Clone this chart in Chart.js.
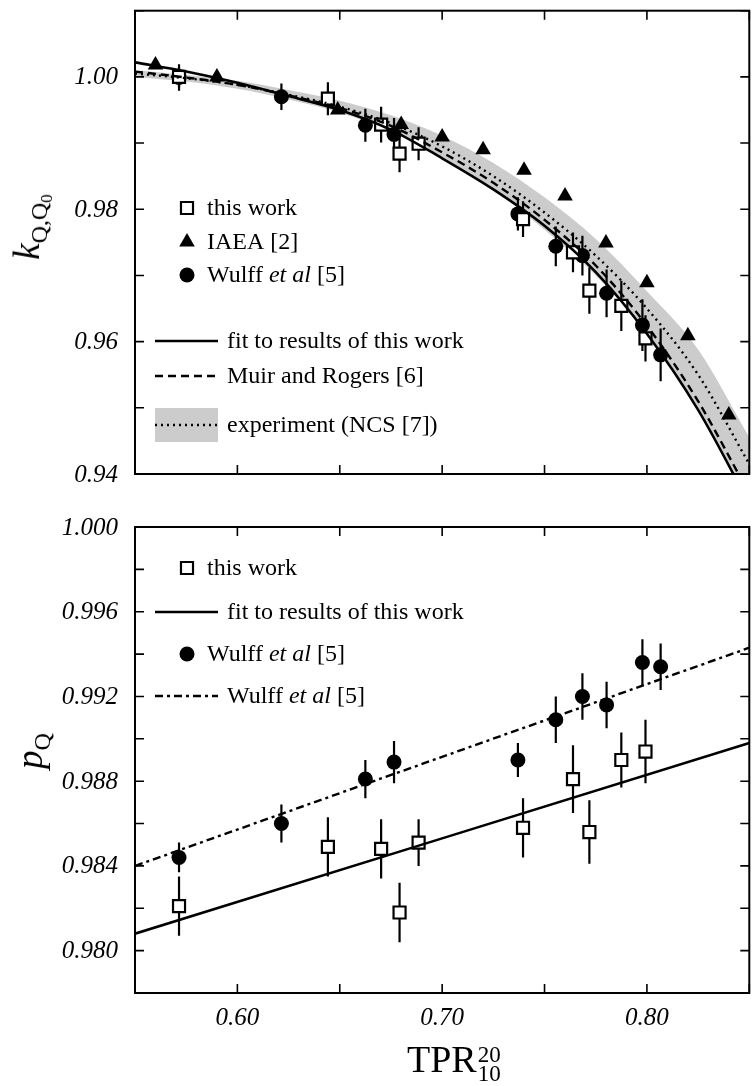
<!DOCTYPE html>
<html><head><meta charset="utf-8">
<script src="https://cdn.jsdelivr.net/npm/chart.js@4/dist/chart.umd.min.js"></script>
<style>
html,body{margin:0;padding:0;background:#fff;overflow:hidden;width:753px;height:1086px;position:relative}
#c1{position:absolute;left:0;top:0;width:760px;height:500px}
#c2{position:absolute;left:0;top:500px;width:760px;height:586px}
.t{position:absolute;font-family:"Liberation Serif",serif;color:#000;white-space:nowrap}
</style></head><body>
<canvas id="c1" width="760" height="500"></canvas>
<canvas id="c2" width="760" height="586"></canvas>
<div class="t" id="ky" style="left:30px;top:227px;font-size:37px;line-height:37px;transform:translate(-50%,-50%) rotate(-90deg)"><i>k</i><span style="font-size:24px;position:relative;top:8px">Q,Q<span style="font-size:17px;position:relative;top:5px">0</span></span></div>
<div class="t" id="py" style="left:32px;top:751px;font-size:37px;line-height:37px;transform:translate(-50%,-50%) rotate(-90deg)"><i>p</i><span style="font-size:24px;position:relative;top:8px">Q</span></div>
<div class="t" id="xt" style="left:407px;top:1040px;font-size:38px;line-height:38px">TPR<span style="display:inline-block;vertical-align:-9px;font-size:23px;line-height:19px;margin-left:1px">20<br>10</span></div>
<script>
// ---------- data ----------
const xTickValues = [0.55, 0.60, 0.65, 0.70, 0.75, 0.80, 0.85];
const xTickLabels = ['', '0.60', '', '0.70', '', '0.80', ''];
const kTickValues = [0.94, 0.95, 0.96, 0.97, 0.98, 0.99, 1.00, 1.01];
const kTickLabels = ['0.94', '', '0.96', '', '0.98', '', '1.00', ''];
const pTickValues = [0.978, 0.980, 0.982, 0.984, 0.986, 0.988, 0.990, 0.992, 0.994, 0.996, 0.998, 1.000];
const pTickLabels = ['', '0.980', '', '0.984', '', '0.988', '', '0.992', '', '0.996', '', '1.000'];

// this work
const thisWorkX    = [0.5715, 0.6442, 0.6702, 0.6792, 0.6885, 0.7395, 0.7639, 0.7719, 0.7875, 0.7993];
const thisWorkK    = [1.0000, 0.9967, 0.9928, 0.9884, 0.9899, 0.9785, 0.9735, 0.9677, 0.9654, 0.9605];
const thisWorkKErr = [0.0015, 0.0025, 0.0027, 0.0028, 0.0025, 0.0027, 0.0030, 0.0035, 0.0038, 0.0035];
const thisWorkP    = [0.9821, 0.9849, 0.9848, 0.9818, 0.9851, 0.9858, 0.9881, 0.9856, 0.9890, 0.9894];
const thisWorkPErr = [0.0014, 0.0014, 0.0014, 0.0014, 0.0011, 0.0014, 0.0016, 0.0015, 0.0013, 0.0015];
// IAEA
const iaeaX = [0.560, 0.590, 0.649, 0.680, 0.700, 0.720, 0.740, 0.760, 0.780, 0.800, 0.820, 0.840];
const iaeaK = [1.0018, 1.0000, 0.9950, 0.9928, 0.9909, 0.9890, 0.9859, 0.9820, 0.9749, 0.9689, 0.9609, 0.9489];
// Wulff et al
const wulffX    = [0.5715, 0.6215, 0.6625, 0.6765, 0.7370, 0.7555, 0.7685, 0.7803, 0.7978, 0.8067];
const wulffK    = [0.9999, 0.9970, 0.9927, 0.9913, 0.9793, 0.9744, 0.9730, 0.9673, 0.9625, 0.9580];
const wulffKErr = [0.0020, 0.0020, 0.0025, 0.0025, 0.0025, 0.0030, 0.0030, 0.0036, 0.0039, 0.0040];
const wulffP    = [0.9844, 0.9860, 0.9881, 0.9889, 0.9890, 0.9909, 0.9920, 0.9916, 0.9936, 0.9934];
const wulffPErr = [0.0007, 0.0009, 0.0009, 0.0010, 0.0008, 0.0011, 0.0011, 0.0011, 0.0011, 0.0011];
// curves
const curveX   = [0.55, 0.575, 0.60, 0.625, 0.65, 0.675, 0.70, 0.725, 0.75, 0.775, 0.80, 0.825, 0.85];
const fitK     = [1.0022, 1.0008, 0.9991, 0.9971, 0.9950, 0.9920, 0.9877, 0.9830, 0.9775, 0.9705, 0.9612, 0.9497, 0.9355];
const muirK    = [1.0008, 0.9999, 0.9988, 0.9972, 0.9953, 0.9926, 0.9886, 0.9840, 0.9784, 0.9715, 0.9624, 0.9510, 0.9370];
const ncsK     = [1.0005, 0.9998, 0.9988, 0.9973, 0.9955, 0.9930, 0.9895, 0.9850, 0.9795, 0.9730, 0.9650, 0.9550, 0.9415];
const ncsUpper = [1.0010, 1.0003, 0.9994, 0.9980, 0.9964, 0.9942, 0.9911, 0.9870, 0.9818, 0.9755, 0.9676, 0.9588, 0.9455];
const ncsLower = [1.0000, 0.9993, 0.9982, 0.9966, 0.9946, 0.9918, 0.9879, 0.9830, 0.9769, 0.9700, 0.9613, 0.9500, 0.9360];
const fitPX    = [0.55, 0.85];
const fitP     = [0.9808, 0.9898];
const wulffFitP = [0.9840, 0.9943];

// ---------- helpers ----------
const pts = (xs, ys) => xs.map((x, i) => ({x, y: ys[i]}));
const FONT = '"Liberation Serif", serif';

const errorBars = {
  id: 'errorBars',
  beforeDatasetDraw(chart, args) {
    const ds = chart.data.datasets[args.index];
    if (!ds.errors) return;
    const xs = chart.scales.x, ys = chart.scales.y, ctx = chart.ctx, a = chart.chartArea;
    ctx.save();
    ctx.beginPath(); ctx.rect(a.left, a.top, a.right - a.left, a.bottom - a.top); ctx.clip();
    ctx.strokeStyle = '#000'; ctx.lineWidth = 2.2; ctx.beginPath();
    ds.data.forEach((p, i) => {
      const px = xs.getPixelForValue(p.x);
      ctx.moveTo(px, ys.getPixelForValue(p.y - ds.errors[i]));
      ctx.lineTo(px, ys.getPixelForValue(p.y + ds.errors[i]));
    });
    ctx.stroke(); ctx.restore();
  }
};

// frame, inward ticks on all four sides, and tick labels placed by the scales
const frame = {
  id: 'frame',
  afterDatasetsDraw(chart, args, opts) {
    const ctx = chart.ctx, a = chart.chartArea, T = 9;
    const xs = chart.scales.x, ys = chart.scales.y;
    ctx.save();
    ctx.strokeStyle = '#000'; ctx.lineWidth = 2;
    ctx.strokeRect(a.left, a.top, a.right - a.left, a.bottom - a.top);
    ctx.lineWidth = 1.6; ctx.beginPath();
    opts.xVals.forEach(v => {
      const px = xs.getPixelForValue(v);
      ctx.moveTo(px, a.bottom); ctx.lineTo(px, a.bottom - T);
      ctx.moveTo(px, a.top); ctx.lineTo(px, a.top + T);
    });
    opts.yVals.forEach(v => {
      const py = ys.getPixelForValue(v);
      ctx.moveTo(a.left, py); ctx.lineTo(a.left + T, py);
      ctx.moveTo(a.right, py); ctx.lineTo(a.right - T, py);
    });
    ctx.stroke();
    ctx.fillStyle = '#000';
    ctx.font = 'italic 25px ' + FONT;
    ctx.textAlign = 'right'; ctx.textBaseline = 'middle';
    opts.yVals.forEach((v, i) => {
      if (opts.yLabels[i]) ctx.fillText(opts.yLabels[i], a.left - 17, ys.getPixelForValue(v) + 1);
    });
    ctx.textAlign = 'center'; ctx.textBaseline = 'alphabetic';
    opts.xVals.forEach((v, i) => {
      if (opts.xLabels[i]) ctx.fillText(opts.xLabels[i], xs.getPixelForValue(v), a.bottom + 32);
    });
    ctx.restore();
  }
};

function drawMarker(ctx, kind, x, y) {
  ctx.save();
  ctx.fillStyle = '#000'; ctx.strokeStyle = '#000';
  if (kind === 'square') {
    const s = 8.5 * Math.SQRT1_2;
    ctx.fillStyle = '#fff'; ctx.lineWidth = 2.2;
    ctx.beginPath(); ctx.rect(x - s, y - s, 2 * s, 2 * s); ctx.fill(); ctx.stroke();
  } else if (kind === 'triangle') {
    const r = 9; ctx.beginPath();
    for (let k = 0; k < 3; k++) {
      const ang = k * 2 * Math.PI / 3;
      const px = x + Math.sin(ang) * r, py = y - Math.cos(ang) * r;
      k ? ctx.lineTo(px, py) : ctx.moveTo(px, py);
    }
    ctx.closePath(); ctx.fill();
  } else if (kind === 'circle') {
    ctx.beginPath(); ctx.arc(x, y, 7.5, 0, 2 * Math.PI); ctx.fill();
  }
  ctx.restore();
}

function legendPlugin(items, offsetY) {
  return {
    id: 'legendBox',
    afterDraw(chart) {
      const ctx = chart.ctx;
      ctx.save();
      ctx.textBaseline = 'middle'; ctx.textAlign = 'left';
      items.forEach(it => {
        const y = it.y - offsetY;
        let tx;
        if (it.kind === 'line' || it.kind === 'band') {
          if (it.kind === 'band') {
            ctx.fillStyle = '#cccccc'; ctx.fillRect(155, y - 17, 63, 34);
          }
          ctx.strokeStyle = '#000'; ctx.lineWidth = 2.4;
          ctx.setLineDash(it.dash); ctx.beginPath(); ctx.moveTo(155, y); ctx.lineTo(218, y); ctx.stroke();
          ctx.setLineDash([]);
          tx = 227;
        } else {
          drawMarker(ctx, it.kind, 187, y);
          tx = 207;
        }
        it.text.forEach(([s, ital]) => {
          ctx.font = (ital ? 'italic ' : '') + '24px ' + FONT;
          ctx.fillStyle = '#000';
          ctx.fillText(s, tx, y + 1);
          tx += ctx.measureText(s).width;
        });
      });
      ctx.restore();
    }
  };
}

function axisCfg(min, max, size, isX) {
  return {
    type: 'linear', min, max,
    afterFit: s => { if (isX) s.height = size; else s.width = size; },
    grid: {display: false, drawTicks: false}, border: {display: false},
    ticks: {display: false}
  };
}
const curve = (data, dash, order, extra) => Object.assign({
  type: 'line', data, borderColor: '#000', borderWidth: 2.4, borderDash: dash,
  pointRadius: 0, fill: false, cubicInterpolationMode: 'monotone', order
}, extra || {});

// ---------- top chart ----------
new Chart(document.getElementById('c1'), {
  type: 'scatter',
  data: {datasets: [
    curve(pts(curveX, ncsUpper), [], 30, {borderWidth: 0, fill: '+1', backgroundColor: '#cccccc'}),
    curve(pts(curveX, ncsLower), [], 31, {borderWidth: 0}),
    {data: pts(iaeaX, iaeaK), pointStyle: 'triangle', pointRadius: 9, backgroundColor: '#000', borderWidth: 0, order: 12},
    {data: pts(wulffX, wulffK), errors: wulffKErr, pointStyle: 'circle', pointRadius: 7.5, backgroundColor: '#000', borderWidth: 0, order: 11},
    {data: pts(thisWorkX, thisWorkK), errors: thisWorkKErr, pointStyle: 'rect', pointRadius: 8.5, backgroundColor: '#fff', borderColor: '#000', borderWidth: 2.2, order: 10},
    curve(pts(curveX, ncsK), [2, 4], 2, {borderWidth: 2.4}),
    curve(pts(curveX, muirK), [8, 5], 1),
    curve(pts(curveX, fitK), [], 0, {borderWidth: 2.6})
  ]},
  options: {
    responsive: false, animation: false, devicePixelRatio: 1, events: [],
    layout: {padding: {top: 7, right: 3, bottom: 0, left: 0}},
    plugins: {legend: {display: false}, tooltip: {enabled: false},
      frame: {xVals: xTickValues, xLabels: xTickValues.map(() => ''), yVals: kTickValues, yLabels: kTickLabels}},
    scales: {x: axisCfg(0.55, 0.85, 26, true), y: axisCfg(0.94, 1.01, 135, false)}
  },
  plugins: [errorBars, frame, legendPlugin([
    {kind: 'square', y: 208, text: [['this work', false]]},
    {kind: 'triangle', y: 242, text: [['IAEA [2]', false]]},
    {kind: 'circle', y: 275, text: [['Wulff ', false], ['et al', true], [' [5]', false]]},
    {kind: 'line', dash: [], y: 341, text: [['fit to results of this work', false]]},
    {kind: 'line', dash: [8, 5], y: 376, text: [['Muir and Rogers [6]', false]]},
    {kind: 'band', dash: [2, 4], y: 425, text: [['experiment (NCS [7])', false]]}
  ], 0)]
});

// ---------- bottom chart ----------
new Chart(document.getElementById('c2'), {
  type: 'scatter',
  data: {datasets: [
    {data: pts(wulffX, wulffP), errors: wulffPErr, pointStyle: 'circle', pointRadius: 7.5, backgroundColor: '#000', borderWidth: 0, order: 11},
    {data: pts(thisWorkX, thisWorkP), errors: thisWorkPErr, pointStyle: 'rect', pointRadius: 8.5, backgroundColor: '#fff', borderColor: '#000', borderWidth: 2.2, order: 10},
    curve(pts(fitPX, fitP), [], 1, {borderWidth: 2.6}),
    curve(pts(fitPX, wulffFitP), [8, 4, 3, 4], 0)
  ]},
  options: {
    responsive: false, animation: false, devicePixelRatio: 1, events: [],
    layout: {padding: {top: 27, right: 3, bottom: 0, left: 0}},
    plugins: {legend: {display: false}, tooltip: {enabled: false},
      frame: {xVals: xTickValues, xLabels: xTickLabels, yVals: pTickValues, yLabels: pTickLabels}},
    scales: {x: axisCfg(0.55, 0.85, 93, true), y: axisCfg(0.978, 1.000, 135, false)}
  },
  plugins: [errorBars, frame, legendPlugin([
    {kind: 'square', y: 568, text: [['this work', false]]},
    {kind: 'line', dash: [], y: 612, text: [['fit to results of this work', false]]},
    {kind: 'circle', y: 654, text: [['Wulff ', false], ['et al', true], [' [5]', false]]},
    {kind: 'line', dash: [8, 4, 3, 4], y: 696, text: [['Wulff ', false], ['et al', true], [' [5]', false]]}
  ], 500)]
});
</script>
</body></html>
